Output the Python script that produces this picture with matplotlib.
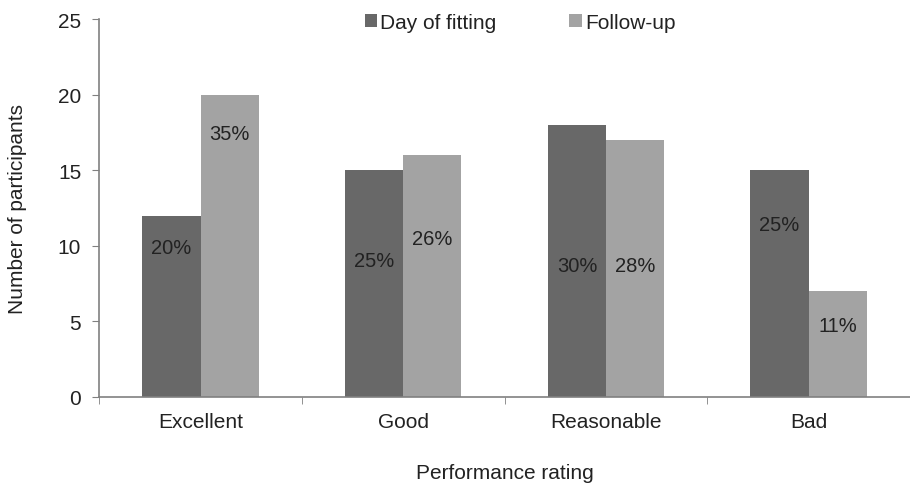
import matplotlib
matplotlib.use('agg')
import matplotlib.pyplot as plt
import numpy as np

categories = ['Excellent', 'Good', 'Reasonable', 'Bad']
day_of_fitting = [12, 15, 18, 15]
follow_up = [20, 16, 17, 7]
day_pct = ['20%', '25%', '30%', '25%']
follow_pct = ['35%', '26%', '28%', '11%']
# label heights as placed in the original (data units)
day_label_y = [9.9, 9.0, 8.7, 11.4]
follow_label_y = [17.4, 10.5, 8.7, 4.7]

plt.rcParams['font.family'] = ['Liberation Sans', 'DejaVu Sans']
plt.rcParams['font.size'] = 15
plt.rcParams['text.color'] = '#222222'
plt.rcParams['axes.labelcolor'] = '#222222'
plt.rcParams['xtick.labelcolor'] = '#222222'
plt.rcParams['ytick.labelcolor'] = '#222222'

DARK = '#686868'
LIGHT = '#a3a3a3'
AXIS = '#808080'

fig = plt.figure(figsize=(9.1, 4.85), dpi=100)
ax = fig.add_axes([99.3 / 910, 87 / 485, (910 - 99.3) / 910, 378 / 485])

x = np.arange(len(categories))
w = 0.287
ax.bar(x - w / 2, day_of_fitting, w, color=DARK, label='Day of fitting')
ax.bar(x + w / 2, follow_up, w, color=LIGHT, label='Follow-up')

for xi, ly, t in zip(x - w / 2, day_label_y, day_pct):
    ax.text(xi, ly, t, ha='center', va='center', fontsize=14.5)
for xi, ly, t in zip(x + w / 2, follow_label_y, follow_pct):
    ax.text(xi, ly, t, ha='center', va='center', fontsize=14.5)

ax.set_xlim(-0.5, -0.5 + (910 - 99.3) / 205.3)
ax.set_ylim(0, 25)
ax.set_yticks(range(0, 26, 5))
ax.set_xticks(x)
ax.set_xticklabels(categories)
ax.set_xticks(np.arange(-0.5, 4, 1), minor=True)
ax.tick_params(axis='x', which='major', length=0, pad=11)
ax.tick_params(axis='x', which='minor', length=5, color=AXIS, direction='out')
ax.tick_params(axis='y', length=5, color=AXIS, pad=8)

for s in ['top', 'right']:
    ax.spines[s].set_visible(False)
for s in ['left', 'bottom']:
    ax.spines[s].set_color(AXIS)
    ax.spines[s].set_linewidth(1.2)

ax.set_xlabel('Performance rating', labelpad=23)
ax.set_ylabel('Number of participants', labelpad=22)

ax.legend(loc='upper center', bbox_to_anchor=(0.519, 1.065), ncol=2, frameon=False,
          handlelength=0.6, handleheight=0.6, handletextpad=0.15, columnspacing=3.5)

fig.savefig('out.png', dpi=100)
